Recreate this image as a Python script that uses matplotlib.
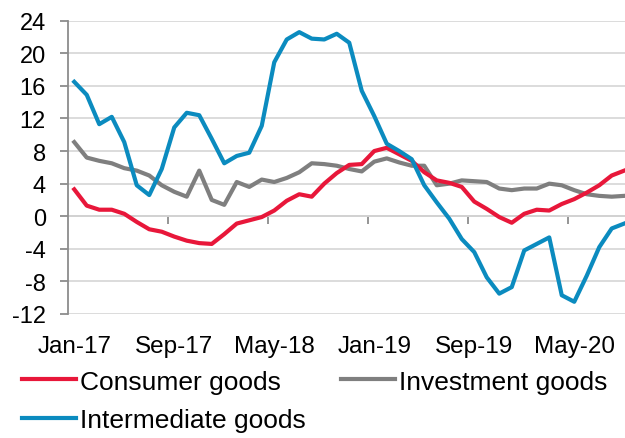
import matplotlib.pyplot as plt
import numpy as np

plt.rcParams['font.family'] = ['Liberation Sans', 'DejaVu Sans']
plt.rcParams['axes.unicode_minus'] = False

# monthly values, Jan-17 .. Sep-20 (% y/y)
consumer = [3.3, 1.3, 0.8, 0.8, 0.3, -0.7, -1.6, -1.9, -2.5, -3.0, -3.3, -3.4,
            -2.2, -0.9, -0.5, -0.1, 0.7, 1.9, 2.7, 2.4, 4.0, 5.3, 6.3, 6.4,
            8.0, 8.4, 7.6, 6.8, 5.4, 4.4, 4.1, 3.6, 1.8, 0.9, -0.1, -0.8,
            0.3, 0.8, 0.7, 1.5, 2.1, 2.9, 3.8, 5.0, 5.6]
investment = [9.1, 7.2, 6.8, 6.5, 5.9, 5.6, 5.0, 3.8, 3.0, 2.4, 5.6, 2.0,
              1.4, 4.2, 3.6, 4.5, 4.2, 4.7, 5.4, 6.5, 6.4, 6.2, 5.8, 5.5,
              6.7, 7.1, 6.6, 6.2, 6.2, 3.8, 4.0, 4.4, 4.3, 4.2, 3.4, 3.2,
              3.4, 3.4, 4.0, 3.8, 3.2, 2.7, 2.5, 2.4, 2.5]
intermediate = [16.5, 14.9, 11.3, 12.2, 9.1, 3.8, 2.6, 5.8, 10.9, 12.7, 12.4, 9.5,
                6.5, 7.4, 7.8, 11.1, 18.9, 21.7, 22.6, 21.8, 21.7, 22.4, 21.3, 15.4,
                12.3, 8.9, 8.0, 7.0, 3.8, 1.7, -0.3, -2.8, -4.4, -7.5, -9.5, -8.7,
                -4.2, -3.4, -2.6, -9.7, -10.5, -7.3, -3.8, -1.5, -0.9]
tick_labels = ['Jan-17', 'Sep-17', 'May-18', 'Jan-19', 'Sep-19', 'May-20']
step = 8

red = '#e8173a'
grey = '#7f7f7f'
blue = '#0b8bbf'
axis_col = '#8c8c8c'

x = np.arange(len(consumer))

fig = plt.figure(figsize=(6.25, 4.39), dpi=100)
ax = fig.add_axes([0.1088, 0.2825, 0.9, 0.668])

l_inv, = ax.plot(x, investment, color=grey, lw=3, label='Investment goods')
l_con, = ax.plot(x, consumer, color=red, lw=3, label='Consumer goods')
l_int, = ax.plot(x, intermediate, color=blue, lw=3, label='Intermediate goods')

ax.set_xlim(-0.5, len(x) - 0.5)
ax.set_ylim(-12, 24)
ax.set_yticks(np.arange(-12, 25, 4))
ax.grid(axis='y', color='#d9d9d9', lw=1.3)
ax.set_axisbelow(True)

for s in ['top', 'right', 'bottom']:
    ax.spines[s].set_visible(False)
ax.spines['left'].set_color(axis_col)
ax.spines['left'].set_linewidth(1.3)
ax.tick_params(axis='y', length=6, width=1.3, color=axis_col, labelsize=17, pad=10)

ax.set_xticks(x[::step])
ax.set_xticklabels(tick_labels)
ax.tick_params(axis='x', length=0, labelsize=17.5, pad=15)

# category axis drawn through zero
zero = ax.secondary_xaxis(12 / 36)
zero.set_xticks(x[step::step] - 0.5)
zero.tick_params(axis='x', length=6, width=1.3, color=axis_col, labelbottom=False)
zero.spines['bottom'].set_color(axis_col)
zero.spines['bottom'].set_linewidth(1.3)

fig.legend(handles=[l_con, l_int, l_inv], ncol=2, frameon=False, fontsize=19,
           loc='upper left', bbox_to_anchor=(0.035, 0.156), handlelength=2.05,
           handletextpad=0.15, columnspacing=1.35, labelspacing=0.55,
           borderaxespad=0, borderpad=0)

fig.savefig('out.png', dpi=100)
